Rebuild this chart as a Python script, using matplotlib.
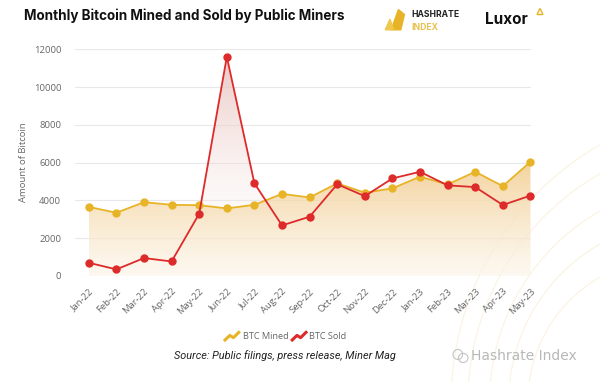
import numpy as np
import matplotlib
matplotlib.use("Agg")
import matplotlib.pyplot as plt
from matplotlib.colors import LinearSegmentedColormap
from matplotlib.patches import Polygon, Ellipse, Arc
from matplotlib.lines import Line2D

months = ["Jan-22", "Feb-22", "Mar-22", "Apr-22", "May-22", "Jun-22", "Jul-22",
          "Aug-22", "Sep-22", "Oct-22", "Nov-22", "Dec-22", "Jan-23", "Feb-23",
          "Mar-23", "Apr-23", "May-23"]
btc_mined = [3650, 3340, 3900, 3760, 3740, 3570, 3760, 4340, 4150, 4900,
             4400, 4630, 5250, 4840, 5510, 4750, 6040]
btc_sold = [690, 340, 940, 760, 3290, 11600, 4900, 2670, 3130, 4850,
            4220, 5160, 5510, 4790, 4700, 3750, 4250]
y_ticks = [0, 2000, 4000, 6000, 8000, 10000, 12000]

gold = "#e8b427"
red = "#dd2a2a"
plt.rcParams["font.family"] = ["Open Sans", "DejaVu Sans"]

fig = plt.figure(figsize=(6, 3.82), dpi=100)

# faint decorative curves in the background (lower right)
for r in [0.30, 0.38, 0.46, 0.55, 0.62]:
    fig.add_artist(Arc((1.0 + r * 0.4, -0.05), r * 1.6, r * 2.5, theta1=90, theta2=180,
                       color="#fbf3df", lw=0.8, transform=fig.transFigure, zorder=0))

ax = fig.add_axes([0.125, 0.278, 0.76, 0.593])
ax.patch.set_alpha(0)

x = np.arange(len(months))


def gradient_fill(ax, xs, ys, top_color, bottom_color, z):
    # fill area under a line with vertical gradient clipped to the polygon
    verts = [(xs[0], 0)] + list(zip(xs, ys)) + [(xs[-1], 0)]
    poly = Polygon(verts, closed=True, facecolor="none", edgecolor="none")
    ax.add_patch(poly)
    cmap = LinearSegmentedColormap.from_list("g", [bottom_color, top_color])
    grad = np.linspace(0, 1, 256).reshape(-1, 1)
    im = ax.imshow(grad, cmap=cmap, aspect="auto", origin="lower",
                   extent=[xs[0], xs[-1], 0, max(ys)], zorder=z)
    im.set_clip_path(poly)


gradient_fill(ax, x, btc_sold, (0.90, 0.74, 0.72, 0.8), (1, 1, 1, 0.0), 1)
gradient_fill(ax, x, btc_mined, (0.95, 0.80, 0.55, 0.85), (0.99, 0.96, 0.91, 0.6), 2)

ax.plot(x, btc_mined, color=gold, lw=1.3, marker="o", ms=5, zorder=4, clip_on=False)
ax.plot(x, btc_sold, color=red, lw=1.3, marker="o", ms=5, zorder=5, clip_on=False)

ax.set_xlim(-0.5, 16.02)
ax.set_ylim(0, 12000)
ax.set_yticks(y_ticks)
ax.set_yticklabels([str(t) for t in y_ticks])
ax.set_xticks(x)
ax.set_xticklabels(months, rotation=45, ha="right", rotation_mode="anchor")
ax.tick_params(axis="both", length=0, labelsize=6.8, labelcolor="#666666")
ax.tick_params(axis="x", pad=8)
ax.tick_params(axis="y", pad=10)
ax.grid(axis="y", color="#e8e8e8", lw=0.8, zorder=0)
ax.set_axisbelow(True)
for s in ax.spines.values():
    s.set_visible(False)
ax.set_ylabel("Amount of Bitcoin", fontsize=6.8, color="#666666", labelpad=4)

# title and logos
fig.text(0.04, 0.958, "Monthly Bitcoin Mined and Sold by Public Miners",
         fontsize=9.7, fontweight="bold", family="Inter", color="#111111", va="center")
fig.add_artist(Polygon([(0.652, 0.922), (0.668, 0.922), (0.674, 0.962), (0.664, 0.975)],
                       closed=True, color="#e8b427", transform=fig.transFigure))
fig.add_artist(Polygon([(0.642, 0.922), (0.656, 0.922), (0.650, 0.950)],
                       closed=True, color="#f0c850", transform=fig.transFigure))
fig.text(0.685, 0.962, "HASHRATE", fontsize=6.2, fontweight="bold", family="Inter",
         color="#222222", va="center")
fig.text(0.685, 0.928, "INDEX", fontsize=6.2, fontweight="bold", family="Inter",
         color="#e8c050", va="center")
fig.text(0.808, 0.948, "Luxor", fontsize=11, fontweight="bold", family="Inter",
         color="#111111", va="center")
fig.add_artist(Polygon([(0.895, 0.962), (0.905, 0.962), (0.900, 0.978)],
                       closed=True, fill=False, edgecolor="#e8b427", lw=1,
                       transform=fig.transFigure))

# legend with zigzag icons
for x0, col in [(0.375, gold), (0.487, red)]:
    fig.add_artist(Line2D([x0, x0 + 0.008, x0 + 0.014, x0 + 0.023],
                          [0.110, 0.122, 0.116, 0.130], color=col, lw=2.2,
                          transform=fig.transFigure))
fig.text(0.405, 0.120, "BTC Mined", fontsize=6.6, color="#666666", va="center")
fig.text(0.515, 0.120, "BTC Sold", fontsize=6.6, color="#666666", va="center")

fig.text(0.475, 0.068, "Source: Public filings, press release, Miner Mag",
         fontsize=7.8, style="italic", family="Roboto", color="#222222",
         ha="center", va="center")

# watermark
fig.add_artist(Ellipse((0.763, 0.072), 0.016, 0.026, fill=False, edgecolor="#c4c4c4",
                       lw=0.8, transform=fig.transFigure))
fig.add_artist(Ellipse((0.772, 0.063), 0.016, 0.024, fill=False, edgecolor="#c4c4c4",
                       lw=0.8, transform=fig.transFigure))
fig.text(0.785, 0.068, "Hashrate Index", fontsize=10, color="#b8b8b8", va="center",
         family="DejaVu Sans")

fig.savefig("out.png", dpi=100, facecolor="white")
